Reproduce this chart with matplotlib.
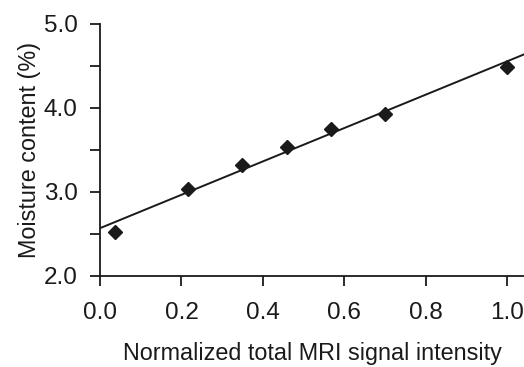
import numpy as np
import matplotlib
matplotlib.use("Agg")
import matplotlib.pyplot as plt
from matplotlib.ticker import MultipleLocator, FormatStrFormatter

# 数据
signal = [0.037, 0.216, 0.349, 0.459, 0.568, 0.700, 1.000]
moisture = [2.52, 3.04, 3.32, 3.54, 3.75, 3.93, 4.49]

# 拟合直线
slope, intercept = np.polyfit(signal, moisture, 1)
fit_x = np.array([0.0, 1.05])
fit_y = slope * fit_x + intercept

plt.rcParams['font.family'] = ['Liberation Sans', 'DejaVu Sans']

fig = plt.figure(figsize=(5.24, 3.67), dpi=100)
ax = fig.add_axes([0.191, 0.248, 0.809, 0.687])

ax.plot(fit_x, fit_y, color='#1a1a1a', lw=1.4)
ax.plot(signal, moisture, 'D', color='#1a1a1a', markersize=7.5)

ax.set_xlim(0, 1.042)
ax.set_ylim(2.0, 5.0)
ax.set_xticks([0.0, 0.2, 0.4, 0.6, 0.8, 1.0])
ax.set_yticks([2.0, 3.0, 4.0, 5.0])
ax.yaxis.set_minor_locator(MultipleLocator(0.5))
ax.xaxis.set_major_formatter(FormatStrFormatter('%.1f'))
ax.yaxis.set_major_formatter(FormatStrFormatter('%.1f'))

ax.spines['top'].set_visible(False)
ax.spines['right'].set_visible(False)
for s in ['left', 'bottom']:
    ax.spines[s].set_linewidth(1.3)
    ax.spines[s].set_color('#1a1a1a')

ax.tick_params(axis='both', which='both', direction='out', length=7, width=1.3,
               colors='#1a1a1a', labelsize=17.5)
ax.tick_params(axis='x', pad=12)
ax.tick_params(axis='y', pad=9)

ax.set_xlabel('Normalized total MRI signal intensity', fontsize=16.8, color='#1a1a1a', labelpad=13)
ax.set_ylabel('Moisture content (%)', fontsize=16.8, color='#1a1a1a', labelpad=2)

fig.savefig('out.png', dpi=100)
